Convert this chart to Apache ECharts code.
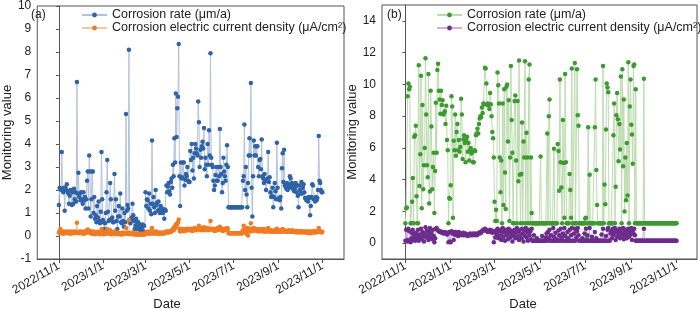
<!DOCTYPE html>
<html>
<head>
<meta charset="utf-8">
<script src="https://cdn.jsdelivr.net/npm/echarts@6/dist/echarts.min.js"></script>
<style>html,body{margin:0;padding:0;background:#fff}#c{width:700px;height:309px}</style>
</head>
<body>
<div id="c"></div>
<script>
// Day offsets from 2022/11/1 and their axis labels
const tickDays = [0, 61, 120, 181, 242, 304, 365];
const tickLabels = ['2022/11/1', '2023/1/1', '2023/3/1', '2023/5/1', '2023/7/1', '2023/9/1', '2023/11/1'];
const nameRate = 'Corrosion rate (μm/a)';
const nameCurrent = 'Corrosion electric current density (μA/cm²)';

// Panel (a): daily values, 2022/11/1 .. 2023/11/1
const rateA = [
  // Nov
  1.35,2.1,2.05,2.0,3.65,2.0,1.9,2.1,1.1,2.1, 2.0,2.25,1.95,1.85,1.4,1.75,2.0,2.0,1.35,1.9, 1.4,2.05,1.6,1.9,1.5,6.7,1.85,2.75,1.7,1.85,
  // Dec
  1.55,1.9,1.6,1.4,1.9,1.55,1.7,1.2,1.6,2.4, 2.8,1.2,3.5,2.8,0.85,1.6,2.8,2.8,1.0,1.7, 0.75,0.9,0.6,1.3,0.8,1.5,0.65,0.55,1.05,3.65, 1.6,
  // Jan
  0.7,0.6,0.3,0.55,1.0,1.9,3.3,1.05,0.65,0.7, 2.3,1.6,0.75,0.8,0.6,0.6,2.7,1.1,1.6,0.65, 0.3,0.85,1.3,0.85,1.85,0.6,0.55,1.2,0.65,0.4, 1.0,
  // Feb
  0.6,5.3,1.1,1.35,1.2,8.1,0.7,0.55,0.75,0.8, 1.4,0.9,0.65,0.3,0.45,0.75,0.6,0.3,0.6,0.4, 0.5,0.25,0.15,0.35,0.5,0.2,0.45,0.15,
  // Mar
  1.9,1.3,1.6,1.55,1.2,1.85,1.1,1.4,0.95,4.15, 1.4,1.7,1.25,1.0,2.0,1.35,1.45,1.1,1.5,1.15, 1.0,1.3,1.1,1.2,1.0,1.1,0.75,1.15,1.1,2.2, 1.9,
  // Apr
  2.15,2.3,1.95,1.8,2.35,2.5,2.1,3.1,2.6,4.25, 3.2,6.2,4.3,5.55,6.05,8.35,2.6,1.3,3.2,2.5, 2.55,3.2,3.2,2.2,2.45,2.7,2.6,3.0,2.4,2.35,
  // May
  2.35,3.7,3.3,4.0,2.85,3.4,2.5,3.6,4.0,3.8, 3.6,3.5,5.85,4.95,3.0,3.75,3.4,3.9,4.1,3.8, 4.7,2.9,3.4,3.1,2.6,4.0,3.1,4.6,3.5,7.95, 3.4,
  // Jun
  3.1,3.0,2.4,2.0,2.2,2.65,3.0,2.4,2.4,3.0, 2.6,4.65,3.0,2.7,1.9,2.3,3.4,2.8,2.6,2.4, 3.1,3.95,3.0,1.25,1.25,1.25,1.25,1.25,1.25,1.25,
  // Jul
  1.25,1.25,1.25,1.25,1.25,1.25,1.25,1.25,1.25,1.25, 1.25,1.25,1.25,2.4,2.6,4.85,2.0,3.0,1.8,1.25, 2.3,3.5,4.25,3.5,6.65,2.1,0.85,2.6,4.15,3.5, 3.9,
  // Aug
  3.5,3.9,3.9,3.0,2.6,3.3,3.35,2.9,4.2,2.6, 2.5,2.3,2.7,2.4,2.0,2.4,2.5,3.65,2.35,2.55, 1.9,1.7,1.75,2.1,1.25,1.7,2.3,1.95,1.6,4.05, 2.1,
  // Sep
  1.6,1.65,1.55,1.7,1.2,2.95,3.6,2.35,3.75,2.2, 2.15,2.05,2.3,2.0,2.25,2.1,2.6,2.5,2.2,2.3, 2.05,2.2,1.95,2.05,2.3,1.9,2.2,1.75,1.25,2.2,
  // Oct
  2.0,1.85,2.35,1.85,2.1,2.25,1.9,1.65,1.65,1.55, 1.6,1.5,1.7,1.65,0.9,1.3,1.7,2.25,2.2,1.6, 1.6,1.5,1.7,1.55,1.65,2.0,4.35,2.4,2.3,2.0, 1.9,
  // Nov 1
  1.9
];
const currentA = [
  0.15,0.2,0.3,0.15,0.12,0.18,0.1,0.2,0.15,0.12, 0.18,0.15,0.2,0.12,0.15,0.18,0.1,0.15,0.2,0.12, 0.15,0.18,0.12,0.2,0.15,0.58,0.15,0.12,0.18,0.15,
  0.2,0.15,0.12,0.18,0.1,0.15,0.2,0.12,0.15,0.25, 0.28,0.2,0.15,0.22,0.12,0.18,0.1,0.15,0.2,0.12, 0.08,0.15,0.1,0.12,0.18,0.1,0.15,0.08,0.12,0.3, 0.15,
  0.1,0.08,0.12,0.15,0.1,0.2,0.3,0.12,0.1,0.15, 0.25,0.12,0.08,0.1,0.15,0.12,0.2,0.1,0.08,0.12, 0.1,0.15,0.08,0.1,0.12,0.06,0.1,0.15,0.08,0.1, 0.12,
  0.1,0.35,0.12,0.1,0.15,0.7,0.1,0.08,0.12,0.1, 0.15,0.08,0.1,0.06,0.08,0.12,0.05,0.08,0.1,0.06, 0.08,0.05,0.1,0.06,0.08,0.05,0.1,0.06,
  0.15,0.12,0.18,0.15,0.1,0.2,0.12,0.15,0.1,0.35, 0.15,0.12,0.18,0.1,0.15,0.2,0.12,0.15,0.1,0.12, 0.15,0.1,0.12,0.15,0.12,0.1,0.15,0.12,0.18,0.2, 0.15,
  0.2,0.15,0.18,0.2,0.22,0.18,0.25,0.3,0.25,0.4, 0.35,0.5,0.45,0.55,0.6,0.72,0.3,0.2,0.25,0.28, 0.22,0.3,0.25,0.28,0.22,0.3,0.25,0.32,0.28,0.25,
  0.3,0.25,0.32,0.28,0.22,0.3,0.25,0.35,0.28,0.3, 0.25,0.32,0.3,0.45,0.28,0.3,0.25,0.35,0.3,0.28, 0.38,0.25,0.3,0.28,0.35,0.3,0.25,0.32,0.28,0.65, 0.3,
  0.28,0.32,0.25,0.3,0.22,0.28,0.3,0.25,0.35,0.28, 0.3,0.4,0.28,0.25,0.3,0.22,0.28,0.32,0.25,0.3, 0.28,0.35,0.3,0.12,0.12,0.12,0.12,0.12,0.12,0.12,
  0.12,0.12,0.12,0.12,0.12,0.12,0.12,0.12,0.12,0.12, 0.12,0.12,0.12,0.25,0.45,0.2,0.3,0.25,0.1,0.35, 0.02,0.25,0.3,0.2,0.55,0.25,0.3,0.22,0.35,0.28, 0.3,
  0.28,0.22,0.3,0.25,0.2,0.28,0.25,0.3,0.22,0.2, 0.25,0.3,0.22,0.18,0.25,0.2,0.28,0.35,0.22,0.2, 0.18,0.25,0.2,0.22,0.18,0.2,0.25,0.22,0.18,0.32, 0.2,
  0.18,0.22,0.2,0.25,0.18,0.2,0.3,0.22,0.25,0.2, 0.18,0.22,0.2,0.18,0.25,0.2,0.22,0.18,0.2,0.25, 0.18,0.2,0.22,0.18,0.2,0.15,0.22,0.18,0.2,0.15,
  0.2,0.18,0.22,0.15,0.2,0.18,0.15,0.2,0.18,0.15, 0.2,0.12,0.18,0.15,0.2,0.12,0.18,0.15,0.2,0.22, 0.15,0.18,0.2,0.15,0.18,0.22,0.35,0.2,0.18,0.2, 0.15,
  0.18
];

// Panel (b): daily values, 2022/11/1 .. 2023/11/1
const rateB = [
  1.25,2.2,2.25,9.25,10.05,9.7,9.85,1.25,1.25,2.6, 4.1,1.25,6.7,6.8,7.4,2.95,1.25,1.25,11.2,3.6, 5.6,10.55,2.2,8.7,3.4,4.9,6.0,11.65,8.1,4.9,
  4.15,10.65,2.5,3.25,9.6,7.35,3.4,4.8,5.7,1.9, 4.55,8.85,5.7,10.9,11.3,9.6,9.05,8.15,9.6,8.7, 9.0,8.1,8.2,8.3,7.5,8.65,6.5,5.85,1.25,2.85, 2.8,
  3.65,9.25,8.6,1.6,6.45,5.85,8.1,5.5,7.0,7.5, 5.85,6.5,5.75,6.05,9.1,8.1,5.3,6.55,6.8,6.3, 5.1,6.5,6.7,5.75,6.3,5.2,5.85,6.0,5.65,5.75, 5.1,
  5.1,5.85,5.8,6.8,6.9,7.2,6.9,7.5,7.85,8.0, 7.95,8.55,8.2,8.8,8.75,11.05,11.0,10.05,8.7,8.8, 8.7,8.45,9.45,8.75,8.0,7.0,6.6,5.4,
  2.6,1.4,2.1,1.4,10.75,9.95,8.8,5.4,3.2,5.2, 1.25,8.8,2.4,9.7,4.45,2.15,9.85,10.0,6.4,9.0, 1.4,5.4,11.15,7.75,5.7,1.25,1.25,8.95,9.3,5.2, 1.25,
  8.95,3.9,11.5,4.3,1.25,4.35,7.6,1.25,6.4,5.4, 11.45,1.25,6.95,5.4,1.25,10.3,11.25,1.25,5.4,1.9, 1.25,1.25,1.25,1.25,1.25,1.25,1.25,1.25,1.25,1.25,
  1.25,5.45,1.25,1.25,1.25,1.25,1.25,1.25,1.25,1.25, 6.9,1.25,8.0,9.05,1.25,1.25,1.25,1.25,1.25,5.95, 1.25,1.25,1.25,1.25,6.25,5.8,3.3,10.3,5.1,3.5, 1.25,
  7.75,5.05,1.6,10.65,5.1,1.25,1.25,1.25,1.25,4.35, 3.35,1.6,11.0,1.25,1.25,1.25,11.35,1.25,1.25,10.95, 8.05,7.4,1.25,1.25,1.25,1.25,1.25,1.25,1.25,1.25,
  1.55,1.6,0.3,1.25,7.3,1.25,4.3,1.25,1.25,1.25, 1.25,1.25,1.25,7.3,10.3,4.6,2.4,1.25,1.25,1.25, 1.25,1.25,1.25,1.25,11.15,1.25,3.7,2.45,7.15,10.05, 9.8,
  9.5,1.25,1.25,1.25,1.25,1.25,1.25,6.8,8.8,1.25, 3.55,8.05,9.45,7.8,5.15,7.5,5.9,10.5,1.25,10.95, 4.85,9.05,2.0,5.4,2.7,6.3,3.0,11.4,1.25,8.6, 10.3,
  7.45,6.85,5.0,11.15,11.25,1.25,9.7,1.25,1.25,1.25, 1.25,1.25,1.25,1.25,1.25,1.25,1.25,10.35,1.25,1.25, 1.25,1.25,1.25,1.25,1.25,1.25,1.25,1.25,1.25,1.25,
  1.25,1.25,1.25,1.25,1.25,1.25,1.25,1.25,1.25,1.25, 1.25,1.25,1.25,1.25,1.25,1.25,1.25,1.25,1.25,1.25, 1.25,1.25,1.25,1.25,1.25,1.25,1.25,1.25,1.25,1.25, 1.25,
  1.25
];
const currentB = [
  0.15,0.85,0.1,0.2,0.9,0.75,0.1,0.05,0.3,0.6, 0.85,0.2,0.45,0.15,0.65,0.3,0.5,0.85,0.15,0.55, 0.35,0.9,0.25,0.7,0.45,0.1,0.6,1.0,0.35,0.8,
  0.5,0.2,0.7,0.95,0.35,0.6,0.25,0.85,0.45,0.05, 0.3,0.9,0.95,0.85,0.8,0.75,0.7,0.75,0.7,0.65, 0.7,0.6,0.65,0.7,0.6,0.65,0.55,0.6,0.05,0.7, 0.1,
  0.05,0.75,0.6,0.7,0.2,0.55,0.7,0.6,0.5,0.65, 0.45,0.7,0.6,0.55,0.6,0.5,0.55,0.65,0.5,0.55, 0.6,0.5,0.55,0.45,0.5,0.55,0.6,0.5,0.55,0.5, 0.6,
  0.55,0.5,0.6,0.55,0.5,0.55,0.6,0.65,0.6,0.7, 0.65,0.75,0.8,0.85,0.8,0.9,0.85,0.8,0.75,0.7, 0.8,0.75,0.85,0.7,0.8,0.65,0.75,0.05,
  0.7,0.35,0.8,0.55,0.9,0.3,0.75,0.45,0.85,0.2, 0.65,0.95,0.4,0.7,0.15,0.85,0.5,0.75,0.25,0.9, 0.6,0.35,0.8,0.55,0.1,0.7,0.45,0.85,0.3,0.65, 0.95,
  0.4,0.75,0.2,0.85,0.55,0.3,0.9,0.6,0.1,0.8, 0.45,0.95,0.35,0.7,0.15,0.85,0.5,0.75,0.25,0.9, 0.15,0.15,0.5,0.15,0.15,0.15,0.3,0.15,0.15,0.15,
  0.15,0.15,0.15,0.45,0.15,0.15,0.15,0.15,0.35,0.6, 0.15,0.7,0.3,0.85,0.15,0.5,0.15,0.15,0.95,0.4, 0.15,0.65,0.15,0.25,0.15,0.8,0.5,0.15,0.9,0.35, 0.15,
  0.6,0.15,0.95,0.45,0.15,0.15,0.7,0.3,0.15,0.85, 0.15,0.5,0.95,0.15,0.15,0.6,0.9,0.15,0.35,0.75, 0.95,0.5,0.15,0.15,0.15,0.15,0.3,0.15,0.15,0.6,
  0.15,0.9,0.15,0.5,0.15,0.15,0.95,0.15,0.15,0.4, 0.15,0.15,0.15,0.7,0.15,0.3,0.15,0.15,0.15,0.15, 0.15,0.15,0.55,0.15,0.9,0.15,0.15,0.15,0.45,0.15, 0.85,
  0.95,0.15,0.15,0.6,0.75,0.3,0.9,0.5,0.65,0.95, 0.2,0.8,0.4,0.7,0.55,0.9,0.3,0.85,0.6,0.45, 0.95,0.25,0.7,0.5,0.85,0.3,0.65,0.9,0.4,0.75, 0.55,
  0.95,0.2,0.8,0.6,0.9,0.5,0.15,0.15,0.15,0.15, 0.15,0.15,0.15,0.15,0.15,0.15,0.15,0.9,0.15,0.15, 0.15,0.15,0.15,0.15,0.15,0.15,0.15,0.15,0.15,0.15,
  0.15,0.15,0.15,0.15,0.15,0.15,0.15,0.15,0.15,0.15, 0.15,0.15,0.15,0.15,0.15,0.15,0.15,0.15,0.15,0.15, 0.15,0.15,0.15,0.15,0.15,0.15,0.15,0.15,0.15,0.15, 0.15,
  0.15
];
const yTicksB = [0, 2, 4, 6, 8, 10, 12, 14];

const FONT = 'Liberation Sans, Arial, sans-serif';
const AX = '#555';
const TXT = '#222';
const COL = {
  blueLine: '#b3c2db', blueDot: '#2f63a8',
  orangeLine: '#f8c7a0', orangeDot: '#f07b23',
  greenLine: '#bcdcae', greenDot: '#3c9a31',
  purpleLine: '#cdb3dc', purpleDot: '#6c2c8c'
};

function series(name, vals, idx, lineColor, dotColor) {
  return {
    name: name, type: 'line', xAxisIndex: idx, yAxisIndex: idx,
    data: vals.map((v, i) => [i, v]),
    symbol: 'circle', symbolSize: 4.5, showSymbol: true, showAllSymbol: true,
    lineStyle: { color: lineColor, width: 1 },
    itemStyle: { color: dotColor },
    emphasis: { disabled: true }, animation: false
  };
}

function xAxis(idx, min, max) {
  return {
    type: 'value', gridIndex: idx, min: min, max: max,
    axisLine: { show: true, onZero: false, lineStyle: { color: AX } },
    axisTick: { show: true, customValues: tickDays, length: 4, lineStyle: { color: AX } },
    axisLabel: { customValues: tickDays, rotate: 30, fontSize: 12, color: TXT, fontFamily: FONT, margin: 6,
      formatter: v => tickLabels[tickDays.indexOf(v)] || '' },
    splitLine: { show: false }
  };
}

const legendText = { fontSize: 12.5, color: TXT, fontFamily: FONT, lineHeight: 13 };

const chart = echarts.init(document.getElementById('c'), null, { renderer: 'canvas' });
chart.setOption({
  animation: false,
  backgroundColor: '#fff',
  grid: [
    { left: 27, top: 5, width: 317, height: 254, show: true, borderColor: AX, borderWidth: 1 },
    { left: 382, top: 5, width: 315, height: 254, show: true, borderColor: AX, borderWidth: 1 }
  ],
  xAxis: [xAxis(0, -30, 395), xAxis(1, -31.5, 392.5)],
  yAxis: [
    { type: 'value', gridIndex: 0, min: -1, max: 10, interval: 1,
      axisLine: { show: true, lineStyle: { color: AX } },
      axisTick: { show: true, length: 3, lineStyle: { color: AX } },
      axisLabel: { fontSize: 12, color: TXT, fontFamily: FONT, margin: 6 },
      splitLine: { show: false },
      name: 'Monitoring value', nameLocation: 'middle', nameGap: 18,
      nameTextStyle: { fontSize: 13, color: TXT, fontFamily: FONT } },
    { type: 'value', gridIndex: 1, min: -1, max: 15,
      axisLine: { show: true, lineStyle: { color: AX } },
      axisTick: { show: true, length: 3, customValues: yTicksB, lineStyle: { color: AX } },
      axisLabel: { customValues: yTicksB, fontSize: 12, color: TXT, fontFamily: FONT, margin: 6 },
      splitLine: { show: false },
      name: 'Monitoring value', nameLocation: 'middle', nameGap: 19,
      nameTextStyle: { fontSize: 13, color: TXT, fontFamily: FONT } }
  ],
  legend: [
    { orient: 'vertical', left: 81, top: 8.5, padding: 0, itemWidth: 25, itemHeight: 6, itemGap: 0,
      textStyle: legendText, selectedMode: false,
      data: [
        { name: nameRate, itemStyle: { color: COL.blueDot }, lineStyle: { color: COL.blueLine } },
        { name: nameCurrent, itemStyle: { color: COL.orangeDot }, lineStyle: { color: COL.orangeLine } }
      ] },
    { orient: 'vertical', left: 436, top: 8.5, padding: 0, itemWidth: 25, itemHeight: 6, itemGap: 0,
      textStyle: legendText, selectedMode: false,
      data: [
        { name: nameRate, itemStyle: { color: COL.greenDot }, lineStyle: { color: COL.greenLine } },
        { name: nameCurrent, itemStyle: { color: COL.purpleDot }, lineStyle: { color: COL.purpleLine } }
      ] }
  ],
  graphic: [
    { type: 'text', left: 31, top: 9, style: { text: '(a)', fontSize: 12, fill: TXT, fontFamily: FONT } },
    { type: 'text', left: 387, top: 9, style: { text: '(b)', fontSize: 12, fill: TXT, fontFamily: FONT } },
    { type: 'text', x: 167, y: 304, style: { text: 'Date', fontSize: 13, fill: TXT, fontFamily: FONT, align: 'center', verticalAlign: 'middle' } },
    { type: 'text', x: 523, y: 304, style: { text: 'Date', fontSize: 13, fill: TXT, fontFamily: FONT, align: 'center', verticalAlign: 'middle' } }
  ],
  series: [
    series(nameRate, rateA, 0, COL.blueLine, COL.blueDot),
    series(nameCurrent, currentA, 0, COL.orangeLine, COL.orangeDot),
    series(nameRate, rateB, 1, COL.greenLine, COL.greenDot),
    series(nameCurrent, currentB, 1, COL.purpleLine, COL.purpleDot)
  ]
});
</script>
</body>
</html>
